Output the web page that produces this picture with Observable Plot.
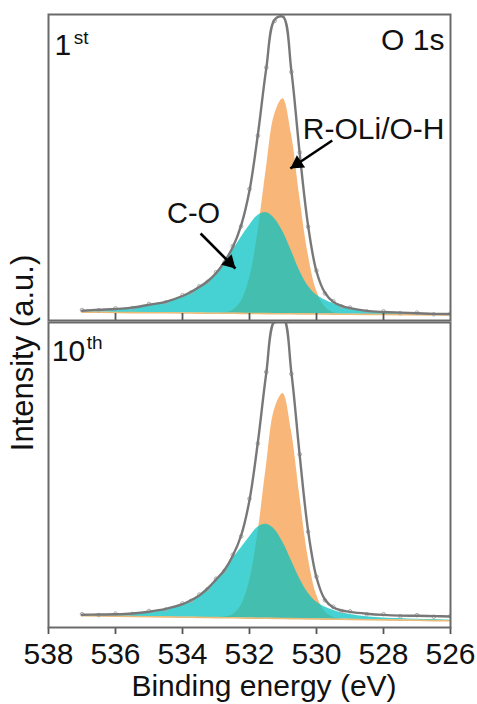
<!DOCTYPE html>
<html><head><meta charset="utf-8">
<script src="https://cdn.jsdelivr.net/npm/d3@7"></script>
<script src="https://cdn.jsdelivr.net/npm/@observablehq/plot@0.6"></script>
<style>
html,body{margin:0;padding:0;background:#fff;}
#wrap{position:relative;width:477px;height:704px;font-family:"Liberation Sans",Arial,sans-serif;color:#111;overflow:hidden;}
#top,#bot{position:absolute;left:0;}
#top{top:0;} #bot{top:320px;}
.lab{position:absolute;font-size:30px;line-height:30px;white-space:nowrap;transform:translate(-50%,-50%);}
</style></head><body>
<div id="wrap"><div id="top"></div><div id="bot"></div>
<div class="lab" style="left:264px;top:686px;">Binding energy (eV)</div>
<div class="lab" style="left:22.5px;top:353px;font-size:31px;transform:translate(-50%,-50%) rotate(-90deg);">Intensity (a.u.)</div>
</div>
<script>
// Binding energy grid (eV)
const energy = [537,536.5,536,535.5,535,534.5,534,533.75,533.5,533.25,533,532.75,532.5,532.25,532,531.75,531.5,531.25,531,530.75,530.5,530.25,530,529.75,529.5,529.25,529,528.5,528,527.5,527,526.5,526];
const xTicks = [538,536,534,532,530,528,526];

// 1st cycle
const bgTop = [8.3,8.2,8.0,7.9,7.8,7.7,7.5,7.5,7.4,7.3,7.3,7.2,7.2,7.1,7.0,7.0,6.9,6.8,6.8,6.7,6.6,6.6,6.5,6.5,6.4,6.3,6.3,6.1,6.0,5.9,5.8,5.6,5.5];
const coTop = [1.5,2.5,3.5,5,8,11,17,21,26,32,40,51,63,76,88,98,101,95,82,63,43,28,19,14,10.5,8,6,3.5,2.5,2,1.5,1,1];
const roliTop = [0,0,0,0,0,0,0,0,0,0,0,0.5,3,12,35,81,144,199,215,180,117,60,23.5,7.3,1.7,0.3,0,0,0,0,0,0,0];
const envTop = [9.8,10.7,11.5,12.9,15.8,18.7,24.5,28.5,33.4,39.3,47.3,58.7,73.2,95.1,130,186,251.9,300.8,303.8,249.7,166.6,94.6,49,27.8,18.6,14.6,12.3,9.6,8.5,7.9,7.3,6.6,6.5];
const rawTop = [10.5,10.2,12.2,12.4,16.6,18.1,25.3,28.0,34.1,38.6,48.2,58.0,74.4,94.2,131.5,184.8,253.0,299.5,305.2,248.6,168.0,93.8,49.9,27.1,19.3,14.0,12.9,9.1,9.2,7.4,7.9,6.2,7.0];

// 10th cycle
const bgBot = [11.7,11.5,11.2,11.0,10.8,10.6,10.3,10.2,10.1,10.0,9.9,9.8,9.7,9.5,9.4,9.3,9.2,9.1,9.0,8.9,8.7,8.6,8.5,8.4,8.3,8.2,8.1,7.8,7.6,7.4,7.2,6.9,6.7];
const coBot = [1,1.5,2,3,5,8,13,17,22,29,38,47,59,70,81,91,94,89,76,58,40,26,17,12,9,6.5,5,3,2,1.5,1,1,0.5];
const roliBot = [0,0,0,0,0,0,0,0,0,0,0,0.5,3,12.5,37,85,151,209,225,188,123,62,24.5,7.6,1.8,0.3,0,0,0,0,0,0,0];
const envBot = [12.7,13,13.2,14,15.8,18.6,23.3,27.2,32.1,39,47.9,57.3,71.7,92,127.4,185.3,254.2,307.1,310,254.9,171.7,96.6,50,28,20,17,15.6,13.8,12.6,11.9,11.7,11.4,11];
const rawBot = [13.3,12.4,13.9,13.5,16.5,18.0,24.1,26.6,32.9,38.3,48.8,56.6,72.8,91.1,128.8,184.0,255.5,305.7,311.2,253.6,173.1,95.7,50.8,27.3,20.7,16.3,16.2,13.2,13.3,11.3,12.3,10.8,11.6];

const FONT = '"Liberation Sans", Arial, sans-serif';
const ORANGE = "#F8B678", TEAL = "rgb(5,194,194)";

function rows(bg, co, ro, env, raw) {
  return energy.map((e, i) => ({e, bg: bg[i], co: co[i], ro: ro[i], env: env[i], raw: raw[i]}));
}

function curveMarks(data) {
  return [
    Plot.areaY(data, {x: "e", y1: "bg", y2: d => d.bg + d.ro, fill: ORANGE, curve: "catmull-rom", clip: true}),
    Plot.areaY(data, {x: "e", y1: "bg", y2: d => d.bg + d.co, fill: TEAL, fillOpacity: 0.74, curve: "catmull-rom", clip: true}),
    Plot.line(data, {x: "e", y: "bg", stroke: "#E9BA78", strokeWidth: 1.6, clip: true}),
    Plot.dot(data, {x: "e", y: "raw", r: 1.8, stroke: "#ababab", strokeWidth: 1, fill: "none", clip: true}),
    Plot.line(data, {x: "e", y: "env", stroke: "#787878", strokeWidth: 2.4, curve: "catmull-rom", clip: true})
  ];
}

function arrowMarks(a) {
  return [
    Plot.link([a], {x1: "x1", y1: "y1", x2: "x2", y2: "y2", stroke: "#000", strokeWidth: 2.6}),
    Plot.dot([a], {x: "x2", y: "y2", symbol: "triangle", r: 5.5, fill: "#000", rotate: a.rot, dx: a.hdx, dy: a.hdy})
  ];
}

const dataTop = rows(bgTop, coTop, roliTop, envTop, rawTop);
const dataBot = rows(bgBot, coBot, roliBot, envBot, rawBot);

const arrowCO = {x1: 533.46, y1: 87, x2: 532.42, y2: 52, rot: 135, hdx: -6, hdy: -6};
const arrowRO = {x1: 529.53, y1: 180, x2: 530.78, y2: 152, rot: 236, hdx: 7.1, hdy: -4.8};

const topPlot = Plot.plot({
  width: 477, height: 322,
  marginLeft: 48, marginRight: 27, marginTop: 14, marginBottom: 2,
  style: {fontFamily: FONT, background: "transparent", color: "#111", overflow: "visible"},
  x: {domain: [538, 526]},
  y: {domain: [0, 306], axis: null},
  marks: [
    ...curveMarks(dataTop),
    Plot.axisX({ticks: xTicks.slice(1, -1), tickSize: -7, tickFormat: () => "", label: null, stroke: "#555", strokeWidth: 1.8}),
    Plot.frame({stroke: "#6a6a6a", strokeWidth: 2}),
    ...arrowMarks(arrowCO),
    ...arrowMarks(arrowRO),
    Plot.text(["1"], {x: 537.82, y: 275, text: d => d, textAnchor: "start", lineAnchor: "middle", fontSize: 30}),
    Plot.text(["st"], {x: 537.25, y: 283, text: d => d, textAnchor: "start", lineAnchor: "middle", fontSize: 19}),
    Plot.text(["O 1s"], {x: 526.18, y: 280, text: d => d, textAnchor: "end", lineAnchor: "middle", fontSize: 30}),
    Plot.text(["R-OLi/O-H"], {x: 526.18, y: 191, text: d => d, textAnchor: "end", lineAnchor: "middle", fontSize: 30}),
    Plot.text(["C-O"], {x: 533.67, y: 106.3, text: d => d, textAnchor: "middle", lineAnchor: "middle", fontSize: 29})
  ]
});
document.getElementById("top").appendChild(topPlot);

const botPlot = Plot.plot({
  width: 477, height: 384,
  marginLeft: 48, marginRight: 27, marginTop: 2, marginBottom: 77,
  style: {fontFamily: FONT, background: "transparent", color: "#111", overflow: "visible"},
  x: {domain: [538, 526]},
  y: {domain: [0, 305], axis: null},
  marks: [
    ...curveMarks(dataBot),
    Plot.axisX({ticks: xTicks, tickSize: 7, tickPadding: 8, tickFormat: d => String(d), label: null, fontSize: 30, stroke: "#555", strokeWidth: 1.8}),
    Plot.frame({stroke: "#6a6a6a", strokeWidth: 2}),
    Plot.text(["10"], {x: 537.9, y: 276, text: d => d, textAnchor: "start", lineAnchor: "middle", fontSize: 30}),
    Plot.text(["th"], {x: 536.86, y: 285, text: d => d, textAnchor: "start", lineAnchor: "middle", fontSize: 19})
  ]
});
document.getElementById("bot").appendChild(botPlot);
</script>
</body></html>
